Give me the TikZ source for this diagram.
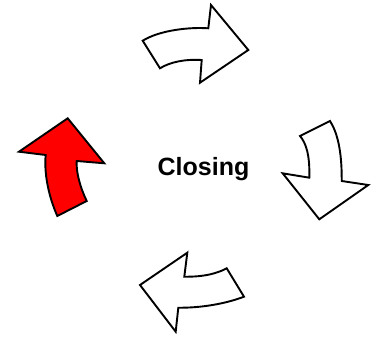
\documentclass[tikz,border=0pt]{standalone}
\usepackage{fontspec}
\setmainfont{Liberation Sans}
\usepackage{tikz}

\begin{document}
\begin{tikzpicture}[x=1pt, y=-1pt, line width=1.9pt, line join=miter,
    cyclearrow/.style={draw=black, fill=white},
    activearrow/.style={draw=black, fill=red},
    phasetext/.style={font=\bfseries\fontsize{25}{30}\selectfont, inner sep=0pt}]

\useasboundingbox (0,0) rectangle (375,337);

% top arrow, pointing right
\path[cyclearrow] (208.3,28.3) .. controls (190,27) and (160,30) .. (142.7,40.7)
    -- (160,68.3) .. controls (170,62) and (185,59) .. (201.7,60)
    -- (200,82.7) -- (248.3,50) -- (211,5) -- cycle;

% right arrow, pointing down
\path[cyclearrow] (309.3,177.7) .. controls (310,155) and (306,143) .. (300,136)
    -- (330,121) .. controls (337,132) and (342,150) .. (341.7,181)
    -- (368.3,185) -- (319.3,219.3) -- (282.7,173.3) -- cycle;

% bottom arrow, pointing left
\path[cyclearrow] (184.3,276.7) .. controls (205,277) and (218,273) .. (226.7,268.3)
    -- (244,296.7) .. controls (225,304) and (200,308) .. (178.3,307.7)
    -- (175.7,331.7) -- (140,285) -- (187.3,252.7) -- cycle;

% left arrow, pointing up (current step)
\path[activearrow] (57.3,216) -- (86.7,201) .. controls (80,187) and (76,172) .. (76.7,161)
    -- (104.3,163.3) -- (67.7,118.3) -- (19,151.7) -- (45.7,155)
    .. controls (44,172) and (48,195) .. cycle;

\node[phasetext, anchor=base] (closing) at (203.5,175) {Closing};
\end{tikzpicture}
\end{document}
